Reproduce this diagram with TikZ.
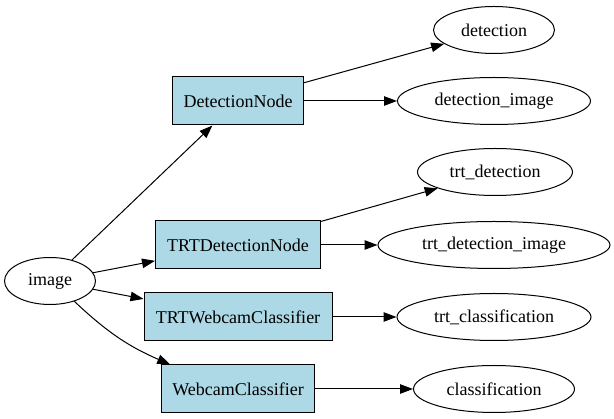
\documentclass[tikz,border=0pt]{standalone}
\usepackage{fontspec}
\setmainfont{Liberation Serif}
\usepackage{tikz}
\usetikzlibrary{arrows.meta, shapes.geometric}
\definecolor{nodeblue}{RGB}{173,216,230}

\begin{document}
\begin{tikzpicture}[x=1pt, y=-1pt, font=\rmfamily\fontsize{18}{20}\selectfont]
\tikzstyle{block} = [rectangle, draw, fill=nodeblue, line width=1pt,
    minimum height=48pt, inner sep=0pt]
\tikzstyle{topic} = [ellipse, draw, line width=1pt,
    minimum height=47pt, inner sep=0pt]
\tikzstyle{line} = [draw, line width=1pt, -{Triangle[length=13pt, width=9.5pt]}]

\useasboundingbox (0,0) rectangle (614,419);

 \node [topic, minimum width=91pt] (image) at (50,281) {image};

 \node [block, minimum width=131pt] (detnode) at (238,101) {DetectionNode};
 \node [block, minimum width=165pt, below of=detnode, node distance=144pt] (trtdetnode) {TRTDetectionNode};
 \node [block, minimum width=188pt, below of=trtdetnode, node distance=72pt] (trtclassifier) {TRTWebcamClassifier};
 \node [block, minimum width=153pt, below of=trtclassifier, node distance=72pt] (classifier) {WebcamClassifier};

 \node [topic, minimum width=193pt, right of=detnode, node distance=256pt] (detimage) {detection\_image};
 \node [topic, minimum width=121pt, above of=detimage, node distance=71pt] (detection) {detection};
 \node [topic, minimum width=232pt, right of=trtdetnode, node distance=256pt] (trtdetimage) {trt\_detection\_image};
 \node [topic, minimum width=155pt, above of=trtdetimage, node distance=73pt, xshift=1pt] (trtdetection) {trt\_detection};
 \node [topic, minimum width=194pt, right of=trtclassifier, node distance=256pt] (trtclass) {trt\_classification};
 \node [topic, minimum width=161pt, right of=classifier, node distance=256pt] (class) {classification};

 \path [line] (image) -- (detnode);
 \path [line] (image) -- (trtdetnode);
 \path [line] (image) -- (trtclassifier);
 \path [line] (image) to [bend right=10] (classifier);

 \path [line] (detnode) -- (detection);
 \path [line] (detnode) -- (detimage);
 \path [line] (trtdetnode) -- (trtdetection);
 \path [line] (trtdetnode) -- (trtdetimage);
 \path [line] (trtclassifier) -- (trtclass);
 \path [line] (classifier) -- (class);
\end{tikzpicture}
\end{document}
